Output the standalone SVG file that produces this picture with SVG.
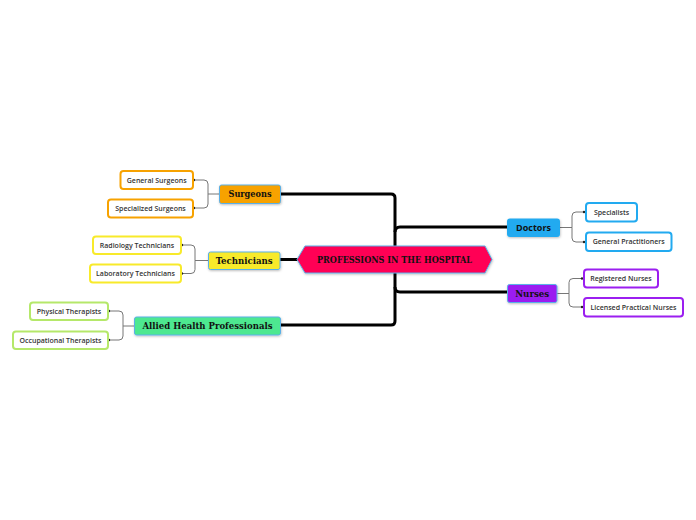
<svg xmlns="http://www.w3.org/2000/svg" width="696" height="520" viewBox="0 0 696 520">
<defs>
<filter id="sh" x="-20%" y="-30%" width="140%" height="170%">
<feDropShadow dx="0.5" dy="1" stdDeviation="0.8" flood-color="#000" flood-opacity="0.25"/>
</filter>
</defs>
<style>
.main{stroke:#000;stroke-width:3;fill:none;stroke-linecap:butt}
.sub{stroke:#777;stroke-width:1;fill:none}
.dot{fill:#222}
.mt{font-family:"DejaVu Serif",serif;font-weight:bold;font-size:8.5px;fill:#111;text-anchor:middle;dominant-baseline:central}
.st{font-family:"Open Sans","DejaVu Sans",sans-serif;font-weight:600;font-size:7px;fill:#333;text-anchor:middle;dominant-baseline:central}
.leaf{fill:#fff;stroke-width:2}
</style>
<rect width="696" height="520" fill="#fff"/>
<g id="connectors">
<path class="main" d="M281,194 H391 Q395,194 395,198 V321 Q395,325 391,325 H281"/>
<path class="main" d="M395,232 Q395,227 400,227 H507"/>
<path class="main" d="M395,287 Q395,292 400,292 H507"/>
<path class="main" d="M280,259.5 H298"/>
<path class="sub" d="M219,194 H208 M208,194 V184 Q208,180 204,180 H193 M208,194 V204 Q208,208 204,208 H193"/>
<circle class="dot" cx="194" cy="180" r="1.2"/><circle class="dot" cx="194" cy="208" r="1.2"/>
<path class="sub" d="M208,260.5 H195 M195,260.5 V249 Q195,245 191,245 H181 M195,260.5 V269.5 Q195,273.5 191,273.5 H181"/>
<circle class="dot" cx="182" cy="245" r="1.2"/><circle class="dot" cx="182" cy="273.5" r="1.2"/>
<path class="sub" d="M134,326 H123 M123,326 V315 Q123,311 119,311 H108 M123,326 V336 Q123,340 119,340 H108"/>
<circle class="dot" cx="109" cy="311" r="1.2"/><circle class="dot" cx="109" cy="340" r="1.2"/>
<path class="sub" d="M560,227.5 H572 M572,227.5 V216 Q572,212 576,212 H585 M572,227.5 V238 Q572,242 576,242 H585"/>
<circle class="dot" cx="584" cy="212" r="1.2"/><circle class="dot" cx="584" cy="242" r="1.2"/>
<path class="sub" d="M557,293.5 H569 M569,293.5 V282.5 Q569,278.5 573,278.5 H583 M569,293.5 V303 Q569,307 573,307 H583"/>
<circle class="dot" cx="582" cy="278.5" r="1.2"/><circle class="dot" cx="582" cy="307" r="1.2"/>
</g>
<g id="central">
<polygon points="297,259.5 305,246 485,246 492,259.5 485,273 305,273" fill="#ff0055" stroke="#5ab0e8" stroke-width="1" filter="url(#sh)"/>
<text class="mt" x="394.5" y="259.5" font-size="8.5" textLength="155" lengthAdjust="spacingAndGlyphs">PROFESSIONS IN THE HOSPITAL</text>
</g>
<g id="surgeons">
<rect x="219.5" y="185" width="61" height="18.5" rx="2" fill="#f7a200" stroke="#5ab0e8" filter="url(#sh)"/>
<text class="mt" x="250" y="194.3" textLength="43" lengthAdjust="spacingAndGlyphs">Surgeons</text>
</g>
<g id="general-surgeons">
<rect class="leaf" x="120.5" y="171" width="72.5" height="18" rx="3" stroke="#f7a200"/>
<text class="st" x="156.7" y="180">General Surgeons</text>
</g>
<g id="specialized-surgeons">
<rect class="leaf" x="108" y="199.5" width="85" height="18" rx="3" stroke="#f7a200"/>
<text class="st" x="150.5" y="208.5">Specialized Surgeons</text>
</g>
<g id="technicians">
<rect x="208.5" y="252" width="71.5" height="17.5" rx="2" fill="#f8ea2a" stroke="#5ab0e8" filter="url(#sh)"/>
<text class="mt" x="244.2" y="260.7" textLength="57" lengthAdjust="spacingAndGlyphs">Technicians</text>
</g>
<g id="radiology">
<rect class="leaf" x="93" y="236.5" width="88" height="17.5" rx="3" stroke="#f8ea2a"/>
<text class="st" x="137" y="245.2">Radiology Technicians</text>
</g>
<g id="laboratory">
<rect class="leaf" x="90" y="264.5" width="91" height="18" rx="3" stroke="#f8ea2a"/>
<text class="st" x="135.5" y="273.5">Laboratory Technicians</text>
</g>
<g id="allied">
<rect x="134.5" y="317" width="146" height="18" rx="2" fill="#4ee890" stroke="#5ab0e8" filter="url(#sh)"/>
<text class="mt" x="207.5" y="326" textLength="130" lengthAdjust="spacingAndGlyphs">Allied Health Professionals</text>
</g>
<g id="physical">
<rect class="leaf" x="30" y="302.5" width="78" height="17.5" rx="3" stroke="#b5e86a"/>
<text class="st" x="69" y="311.2">Physical Therapists</text>
</g>
<g id="occupational">
<rect class="leaf" x="13" y="331.5" width="95" height="17.5" rx="3" stroke="#b5e86a"/>
<text class="st" x="60.5" y="340.2">Occupational Therapists</text>
</g>
<g id="doctors">
<rect x="507" y="218.5" width="53" height="18.5" rx="3" fill="#22aaf0" filter="url(#sh)"/>
<text x="533.5" y="227.7" font-family="'Open Sans','DejaVu Sans',sans-serif" font-weight="bold" font-size="9" fill="#111" text-anchor="middle" dominant-baseline="central">Doctors</text>
</g>
<g id="specialists">
<rect class="leaf" x="586" y="203" width="51" height="18.5" rx="3" stroke="#22aaf0"/>
<text class="st" x="611.5" y="212.2">Specialists</text>
</g>
<g id="general-practitioners">
<rect class="leaf" x="586" y="232.5" width="85.5" height="18.5" rx="3" stroke="#22aaf0"/>
<text class="st" x="628.7" y="241.8">General Practitioners</text>
</g>
<g id="nurses">
<rect x="507.5" y="284.5" width="49.5" height="18" rx="2" fill="#9b1ff0" stroke="#5ab0e8" filter="url(#sh)"/>
<text class="mt" x="532.2" y="293.5" textLength="34" lengthAdjust="spacingAndGlyphs">Nurses</text>
</g>
<g id="registered">
<rect class="leaf" x="584" y="269.5" width="74" height="18" rx="3" stroke="#9b1ff0"/>
<text class="st" x="621" y="278.5">Registered Nurses</text>
</g>
<g id="licensed">
<rect class="leaf" x="584" y="298" width="99" height="18.5" rx="3" stroke="#9b1ff0"/>
<text class="st" x="633.5" y="307.2">Licensed Practical Nurses</text>
</g>
</svg>
